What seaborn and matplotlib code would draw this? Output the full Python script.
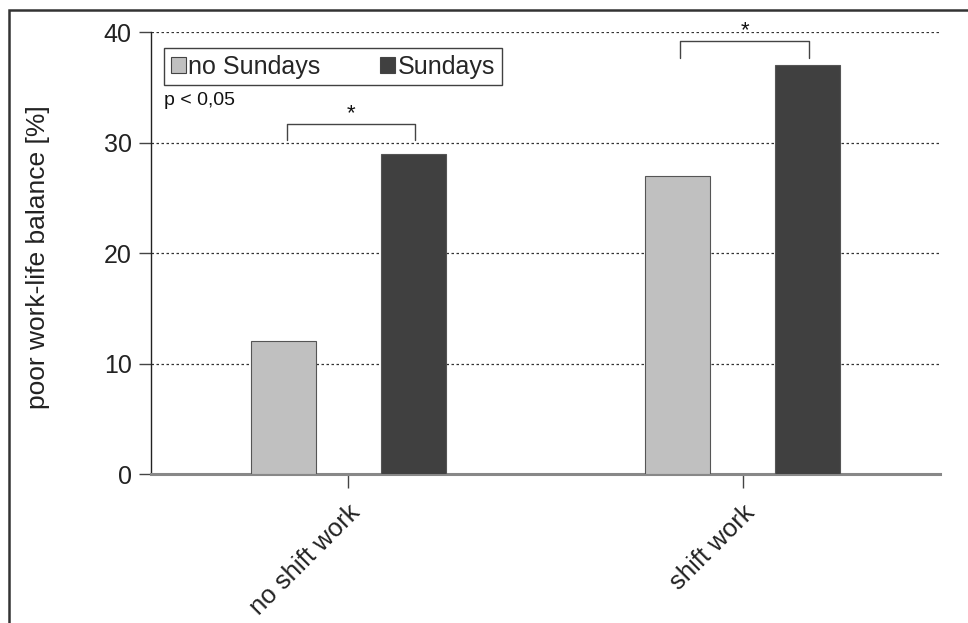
import matplotlib
matplotlib.use("Agg")
import matplotlib.pyplot as plt
import matplotlib.patches as mpatches
import seaborn as sns
import pandas as pd

# Data
groups = ["no shift work", "shift work"]
conditions = ["no Sundays", "Sundays"]
no_sundays = [12, 27]
sundays = [29, 37]
palette = ["#c0c0c0", "#404040"]

df = pd.DataFrame({
    "group": groups * 2,
    "condition": [conditions[0]] * 2 + [conditions[1]] * 2,
    "value": no_sundays + sundays,
})

sns.set_theme(style="white")
plt.rcParams["font.family"] = ["Liberation Sans", "DejaVu Sans"]

fig = plt.figure(figsize=(9.68, 6.23), dpi=100)
ax = fig.add_axes([0.156, 0.239, 0.815, 0.7095])

sns.barplot(data=df, x="group", y="value", hue="condition", order=groups,
            hue_order=conditions, palette=palette, width=0.66, gap=0.5,
            edgecolor="#555555", linewidth=0.8, saturation=1, ax=ax,
            legend=False, zorder=3)

ax.set_xlim(-0.5, 1.5)
ax.set_ylim(0, 40)
ax.set_yticks([0, 10, 20, 30, 40])
ax.yaxis.grid(True, linestyle=(0, (2, 2)), color="#333333", linewidth=0.9, zorder=0)
ax.set_axisbelow(True)

for side in ["top", "right"]:
    ax.spines[side].set_visible(False)
ax.spines["left"].set_color("#222222")
ax.spines["left"].set_linewidth(1.0)
ax.spines["bottom"].set_color("#888888")
ax.spines["bottom"].set_linewidth(2.2)

ax.tick_params(axis="y", direction="out", length=9, width=1.0, color="#444444",
               labelsize=18, labelcolor="#222222", pad=5, left=True)
ax.tick_params(axis="x", direction="out", length=10, width=1.0, color="#444444",
               labelsize=18.5, labelcolor="#222222", pad=9, bottom=True)
ax.set_xticks(range(len(groups)))
ax.set_xticklabels(groups, rotation=45, ha="right", rotation_mode="anchor")
ax.set_xlabel("")
ax.set_ylabel("poor work-life balance [%]", fontsize=19, color="#222222")
ax.yaxis.set_label_coords(-0.128, 0.492)

# Legend
handles = [mpatches.Patch(facecolor=palette[i], edgecolor="#444444", linewidth=0.8,
                          label=conditions[i]) for i in range(2)]
leg = ax.legend(handles=handles, loc="upper left", bbox_to_anchor=(0.017, 0.963),
                ncol=2, fontsize=18, frameon=True, fancybox=False,
                handlelength=0.6, handleheight=0.6, handletextpad=0.1,
                columnspacing=2.4, borderpad=0.25, borderaxespad=0)
leg.get_frame().set_edgecolor("#111111")
leg.get_frame().set_linewidth(1.0)

ax.text(0.017, 0.845, "p < 0,05", transform=ax.transAxes, fontsize=14,
        color="#111111", ha="left", va="center")

# Significance brackets
def bracket(x0, x1, y_leg, y_top, star_y):
    ax.plot([x0, x0, x1, x1], [y_leg, y_top, y_top, y_leg], color="#444444",
            linewidth=1.0, zorder=4, clip_on=False)
    ax.text((x0 + x1) / 2, star_y, "*", ha="center", va="center", fontsize=16,
            color="#111111", clip_on=False)

bracket(-0.156, 0.169, 30.2, 31.7, 32.6)
bracket(0.841, 1.169, 37.7, 39.2, 40.1)

# Figure frame
fig.patches.append(mpatches.Rectangle((0.009, -0.05), 1.05, 1.034,
                                      transform=fig.transFigure, fill=False,
                                      edgecolor="#333333", linewidth=1.8))

fig.savefig("out.png", dpi=100)
